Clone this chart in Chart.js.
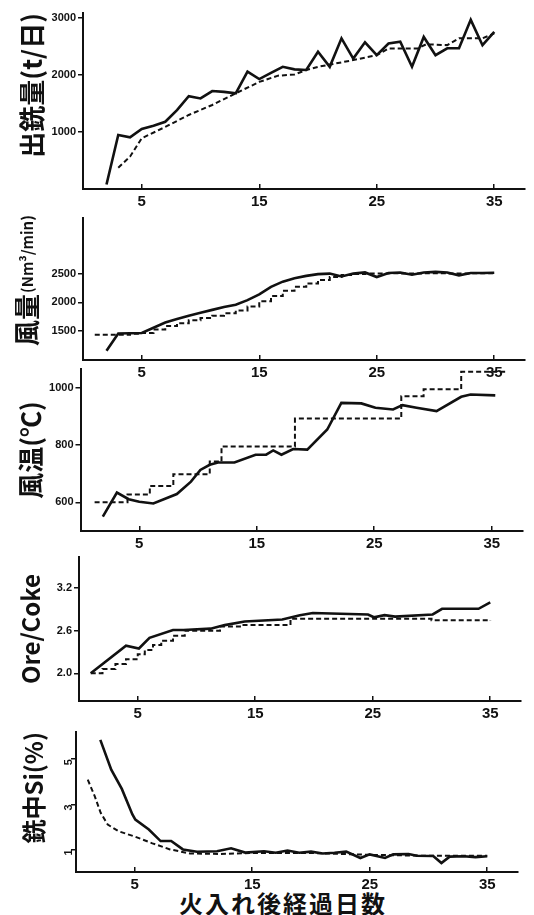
<!DOCTYPE html>
<html>
<head>
<meta charset="utf-8">
<script src="https://cdn.jsdelivr.net/npm/chart.js@4.4.1/dist/chart.umd.min.js"></script>
<style>
  html, body { margin: 0; padding: 0; background: #fff; }
  #wrap { position: relative; width: 534px; height: 915px; overflow: hidden; }
  #wrap canvas { position: absolute; left: 0; }
  #xtitle {
    position: absolute; left: 0; width: 566px; top: 891px; text-align: center;
    font: bold 24px/24px "Noto Sans CJK JP"; color: #111; letter-spacing: 2px;
  }
</style>
</head>
<body>
<div id="wrap">
  <div id="xtitle">火入れ後経過日数</div>
</div>
<script>
// shared x axis (days after blow-in)
const xTicks = [5, 15, 25, 35];

// 出銑量 (t/日)
const p1YTicks = [1000, 2000, 3000];
const p1SolidDays = [2, 3, 4, 5, 6, 7, 8, 9, 10, 11, 12, 13, 14, 15, 16, 17, 18, 19, 20, 21, 22, 23, 24, 25, 26, 27, 28, 29, 30, 31, 32, 33, 34, 35];
const p1SolidValues = [80, 947, 907, 1053, 1110, 1180, 1386, 1630, 1590, 1720, 1705, 1680, 2060, 1930, 2040, 2145, 2100, 2090, 2410, 2145, 2645, 2290, 2575, 2350, 2555, 2585, 2145, 2670, 2350, 2470, 2470, 2970, 2525, 2760];
const p1DashDays = [3, 4, 5, 7, 9, 11, 13, 15, 16.6, 18, 19, 20, 23, 25, 26, 28.5, 29.2, 31, 32, 34, 35];
const p1DashValues = [374, 567, 890, 1090, 1300, 1475, 1680, 1880, 1990, 2010, 2090, 2145, 2263, 2350, 2468, 2468, 2540, 2526, 2645, 2645, 2733];

// 風量 (Nm3/min)
const p2YTicks = [1500, 2000, 2500];
const p2SolidDays = [2, 3, 4, 5, 6, 7, 8, 9, 10, 11, 12, 13, 14, 15, 16, 17, 18, 19, 20, 21, 22, 23, 24, 25, 26, 27, 28, 29, 30, 31, 32, 33, 34, 35];
const p2SolidValues = [1160, 1460, 1465, 1470, 1560, 1650, 1710, 1770, 1820, 1870, 1920, 1960, 2040, 2140, 2270, 2360, 2420, 2460, 2490, 2500, 2450, 2500, 2520, 2440, 2510, 2520, 2480, 2520, 2530, 2520, 2470, 2510, 2510, 2515];
const p2DashDays = [1, 2, 3, 4, 5, 6, 7, 8, 9, 10, 11, 12, 13, 14, 15, 16, 17, 18, 19, 20, 21, 22, 23, 24, 25, 26, 27, 28, 29, 30, 31, 32, 33, 34, 35];
const p2DashValues = [1440, 1440, 1440, 1455, 1470, 1530, 1590, 1640, 1690, 1730, 1770, 1810, 1860, 1930, 2020, 2110, 2200, 2270, 2330, 2390, 2440, 2475, 2495, 2500, 2500, 2505, 2500, 2500, 2505, 2505, 2500, 2500, 2505, 2505, 2510];

// 風温 (℃)
const p3YTicks = [600, 800, 1000];
const p3SolidDays = [1.9, 3.1, 4.1, 5, 6.2, 8.2, 9.4, 10.2, 11, 11.7, 13.1, 14.9, 15.8, 16.4, 17.1, 18.1, 19.3, 21, 22.2, 23.9, 25.1, 26.6, 27.4, 28.6, 30.3, 32.4, 33.2, 35.3];
const p3SolidValues = [550, 634, 611, 602, 596, 629, 672, 713, 731, 739, 739, 766, 766, 781, 766, 786, 784, 854, 947, 945, 930, 924, 939, 930, 918, 968, 976, 973];
const p3DashDays = [1.2, 4, 5.9, 7.9, 11, 12, 18.25, 27.3, 29.2, 32.4, 36.2];
const p3DashValues = [600, 627, 657, 698, 742, 795, 892, 970, 994, 1055, 1055];

// Ore/Coke
const p4YTicks = [2.0, 2.6, 3.2];
const p4SolidDays = [1, 4, 5.1, 6, 8, 8.9, 11.2, 12.4, 14.1, 17.3, 18.8, 19.9, 24.6, 25.1, 26, 26.9, 30.1, 30.9, 34, 35];
const p4SolidValues = [2.0, 2.39, 2.35, 2.5, 2.61, 2.61, 2.63, 2.68, 2.73, 2.76, 2.82, 2.85, 2.83, 2.79, 2.82, 2.8, 2.83, 2.91, 2.91, 3.0];
const p4DashDays = [1, 2, 3.1, 4, 5, 5.6, 6.3, 7, 8, 9, 12, 14, 18, 30, 35];
const p4DashValues = [2.0, 2.06, 2.13, 2.2, 2.27, 2.33, 2.4, 2.46, 2.53, 2.6, 2.66, 2.68, 2.77, 2.75, 2.74];

// 銑中Si (%)
const p5YTicks = [1, 3, 5];
const p5SolidDays = [2.07, 3, 3.9, 4.8, 5.05, 6.2, 7.2, 8.1, 9.1, 10.3, 12, 13.2, 14.4, 16, 17, 18, 19, 20, 21, 22, 23, 24.2, 25, 26.3, 27, 28.3, 29, 30.4, 31.1, 31.8, 33, 34, 35];
const p5SolidValues = [5.85, 4.53, 3.68, 2.55, 2.32, 1.88, 1.37, 1.37, 1.0, 0.9, 0.92, 1.05, 0.86, 0.92, 0.85, 0.95, 0.85, 0.9, 0.82, 0.85, 0.9, 0.62, 0.78, 0.62, 0.78, 0.8, 0.72, 0.71, 0.4, 0.68, 0.7, 0.66, 0.7];
const p5DashDays = [1, 1.6, 2.1, 2.7, 3.6, 5.05, 6.5, 8, 9.7, 12.3, 15, 20, 25, 30, 35];
const p5DashValues = [4.09, 3.35, 2.62, 2.1, 1.81, 1.56, 1.27, 1.0, 0.82, 0.8, 0.84, 0.84, 0.76, 0.72, 0.72];

const PX_PER_DAY = 11.75;
const X_MAX = 37.6;
const INK = '#111';
const JP = '"Noto Sans CJK JP"';

const toPoints = (days, values) => days.map((d, i) => ({ x: d, y: values[i] }));

// y title made of a big name and a small unit, rotated like an axis title
const makePartTitle = p => ({
  id: 'partTitle',
  afterDraw(chart) {
    const ctx = chart.ctx;
    ctx.save();
    ctx.translate(p.titleX, p.titleBottom - (p.top - 10));
    ctx.rotate(-Math.PI / 2);
    ctx.fillStyle = INK;
    ctx.textBaseline = 'middle';
    ctx.textAlign = 'left';
    let cursor = 0;
    p.titleParts.forEach(part => {
      ctx.font = 'bold ' + part.size + 'px ' + JP;
      ctx.fillText(part.text, cursor, 0);
      cursor += ctx.measureText(part.text).width + 1;
    });
    ctx.restore();
  }
});

// layout of the five stacked panels (page pixels)
const panels = [
  { top: 13, bottom: 189, left: 83, yMin: 0, yMax: 3090, yTicks: p1YTicks,
    title: '出銑量(t/日)', titleSize: 26, titleAlign: 'end', titleX: 32,
    solid: toPoints(p1SolidDays, p1SolidValues), dash: toPoints(p1DashDays, p1DashValues), stepped: false },
  { top: 218, bottom: 360, left: 83, yMin: 1000, yMax: 3465, yTicks: p2YTicks,
    titleParts: [{ text: '風量', size: 26 }, { text: '(Nm³/min)', size: 15 }], titleX: 27, titleBottom: 346,
    solid: toPoints(p2SolidDays, p2SolidValues), dash: toPoints(p2DashDays, p2DashValues), stepped: true },
  { top: 369, bottom: 531, left: 80.5, yMin: 500, yMax: 1065, yTicks: p3YTicks,
    title: '風温(℃)', titleSize: 26, titleAlign: 'center', titleX: 31,
    solid: toPoints(p3SolidDays, p3SolidValues), dash: toPoints(p3DashDays, p3DashValues), stepped: true },
  { top: 557, bottom: 701, left: 79, yMin: 1.61, yMax: 3.64, yTicks: p4YTicks, fmt: v => v.toFixed(1),
    title: 'Ore/Coke', titleSize: 24, titleAlign: 'center', titleX: 31,
    solid: toPoints(p4SolidDays, p4SolidValues), dash: toPoints(p4DashDays, p4DashValues), stepped: true },
  { top: 732, bottom: 872, left: 76, yMin: 0, yMax: 6.2, yTicks: p5YTicks, rotate: true,
    title: '銑中Si(%)', titleSize: 24, titleAlign: 'end', titleX: 34,
    solid: toPoints(p5SolidDays, p5SolidValues), dash: toPoints(p5DashDays, p5DashValues), stepped: false }
];

const wrap = document.getElementById('wrap');

panels.forEach(p => {
  const canvas = document.createElement('canvas');
  const h = p.bottom - p.top + 10 + 26;
  canvas.width = 534;
  canvas.height = h;
  canvas.style.width = '534px';
  canvas.style.height = h + 'px';
  canvas.style.top = (p.top - 10) + 'px';
  wrap.appendChild(canvas);

  const right = p.left + X_MAX * PX_PER_DAY;

  new Chart(canvas, {
    type: 'line',
    plugins: p.titleParts ? [makePartTitle(p)] : [],
    data: {
      datasets: [
        {
          data: p.solid,
          borderColor: INK,
          borderWidth: 2.6,
          pointRadius: 0,
          tension: 0,
          fill: false
        },
        {
          data: p.dash,
          borderColor: INK,
          borderWidth: 2,
          borderDash: [5, 3],
          pointRadius: 0,
          tension: 0,
          stepped: p.stepped,
          fill: false
        }
      ]
    },
    options: {
      responsive: false,
      animation: false,
      layout: { padding: { top: 10, right: 534 - right, bottom: 0, left: 0 } },
      plugins: { legend: { display: false }, tooltip: { enabled: false } },
      scales: {
        x: {
          type: 'linear',
          min: 0,
          max: X_MAX,
          afterBuildTicks: s => { s.ticks = xTicks.map(v => ({ value: v })); },
          afterFit: s => { s.height = 26; },
          border: { color: INK, width: 2 },
          grid: { drawOnChartArea: false, drawTicks: true, tickLength: -5, color: INK, lineWidth: 1.5 },
          ticks: {
            color: INK, padding: 9, maxRotation: 0, autoSkip: false,
            font: { family: 'Liberation Sans', size: 15, weight: 'bold' },
            callback: v => String(v)
          }
        },
        y: {
          min: p.yMin,
          max: p.yMax,
          afterBuildTicks: s => { s.ticks = p.yTicks.map(v => ({ value: v })); },
          afterFit: s => { s.width = p.left; },
          border: { color: INK, width: 2 },
          grid: { drawOnChartArea: false, drawTicks: true, tickLength: 5, color: INK, lineWidth: 1.5 },
          ticks: {
            color: INK, padding: 2,
            minRotation: p.rotate ? 90 : 0,
            maxRotation: p.rotate ? 90 : 0,
            font: { family: 'Liberation Sans', size: 11, weight: 'bold' },
            callback: v => p.fmt ? p.fmt(v) : String(v)
          },
          title: {
            display: !!p.title,
            text: p.title || '',
            color: INK,
            align: p.titleAlign || 'center',
            padding: { top: p.title ? p.titleX - p.titleSize * 0.6 : 0, bottom: 0 },
            font: { family: JP, size: p.titleSize || 20, weight: 'bold' }
          }
        }
      }
    }
  });
});
</script>
</body>
</html>
